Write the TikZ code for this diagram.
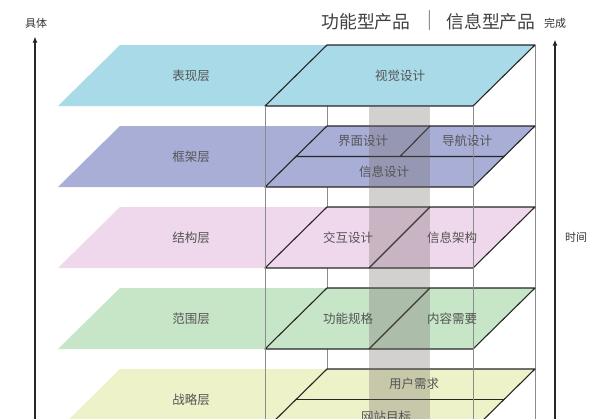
\documentclass[tikz,border=0pt]{standalone}
\usepackage{fontspec}
\setmainfont{Noto Sans CJK SC}
\usepackage{tikz}
\usetikzlibrary{arrows.meta}

\definecolor{layerA}{RGB}{168,218,232}
\definecolor{layerB}{RGB}{168,174,214}
\definecolor{layerC}{RGB}{239,216,235}
\definecolor{layerD}{RGB}{199,229,199}
\definecolor{layerE}{RGB}{238,242,200}
\definecolor{bandgray}{RGB}{110,100,100}
\definecolor{labelgray}{RGB}{85,85,85}

\begin{document}
\begin{tikzpicture}[x=1pt,y=-1pt,
    every node/.style={text=labelgray, font=\fontsize{12.5}{13}\selectfont},
    frame/.style={draw=black!85, line width=1.1pt, line join=round},
    edge/.style={draw=black!45, line width=0.6pt},
    axis/.style={draw=black!85, line width=1.1pt, -{Latex[length=6pt,width=5pt]}},
    small/.style={font=\fontsize{11}{11}\selectfont, text=black!80}]
  \useasboundingbox (0,0) rectangle (600,418);
  \clip (0,0) rectangle (600,418);
  %back edges
  \draw[edge] (327,45) -- (327,430);
  \draw[edge] (535,45) -- (535,430);
  %layers
  \foreach \t/\col/\name [count=\i] in
      {45/layerA/表现层, 126/layerB/框架层, 207/layerC/结构层,
       288/layerD/范围层, 369/layerE/战略层}{
    \fill[\col] (58,\t+61) -- (473,\t+61) -- (535,\t) -- (120,\t) -- cycle;
    \draw[frame] (265,\t+61) -- (473,\t+61) -- (535,\t) -- (327,\t) -- cycle;
    \node (layer\i) at (191,\t+31) {\name};
  }
  %splits
  \draw[frame] (296,156.5) -- (504,156.5) (400,156.5) -- (430,126);
  \draw[frame] (369,268) -- (430,207);
  \draw[frame] (369,349) -- (430,288);
  \draw[frame] (296,399.5) -- (504,399.5);
  %front edges
  \draw[edge] (265,106) -- (265,430);
  \draw[edge] (473,106) -- (473,430);
  %band
  \fill[bandgray, opacity=0.3] (369,106) rectangle (430,430);
  %box labels
  \node (visual) at (400,76) {视觉设计};
  \node (iface) at (363,141) {界面设计};
  \node (navi) at (467,141) {导航设计};
  \node (infodes) at (384,172) {信息设计};
  \node (interact) at (348,238) {交互设计};
  \node (infoarch) at (452,238) {信息架构};
  \node (funcspec) at (348,319) {功能规格};
  \node (content) at (452,319) {内容需要};
  \node (userneed) at (414,384) {用户需求};
  \node (sitegoal) at (386,417) {网站目标};
  %title
  \node[font=\fontsize{17.8}{18}\selectfont, text=black!75] (func) at (366,22) {功能型产品};
  \node[font=\fontsize{17.8}{18}\selectfont, text=black!45] (sep) at (430,21) {|};
  \node[font=\fontsize{17.8}{18}\selectfont, text=black!75] (info) at (491,22) {信息型产品};
  %axes
  \node[small] (concrete) at (36,23) {具体};
  \coordinate (left low) at (35,430);
  \draw[axis, shorten >=5pt] (left low) -- (concrete.south -| left low);
  \node[small] (done) at (555,23) {完成};
  \coordinate (right low) at (555,430);
  \draw[axis, shorten >=8pt] (right low) -- (done.south -| right low);
  \node[small] (time) at (576,237) {时间};
\end{tikzpicture}
\end{document}
